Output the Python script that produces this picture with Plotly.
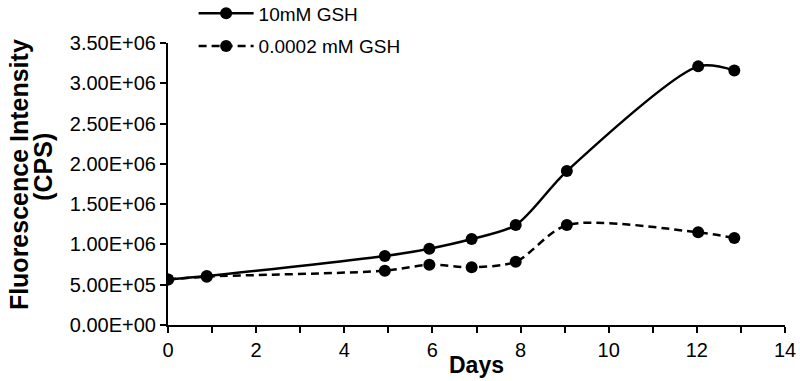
"""Fluorescence intensity over time for two GSH concentrations."""

import plotly.graph_objects as go

# ── Data ──────────────────────────────────────────────────────────────────────
days = [0, 0.88, 4.92, 5.93, 6.89, 7.89, 9.05, 12.03, 12.85]
gsh_10mm = [565000, 608000, 856000, 947000, 1067000, 1240000, 1910000, 3210000, 3160000]
gsh_00002mm = [565000, 600000, 674000, 748000, 716000, 785000, 1240000, 1150000, 1080000]

y_tick_vals = [0, 500000, 1000000, 1500000, 2000000, 2500000, 3000000, 3500000]
y_tick_text = ["0.00E+00", "5.00E+05", "1.00E+06", "1.50E+06",
               "2.00E+06", "2.50E+06", "3.00E+06", "3.50E+06"]

FONT = "Liberation Sans, Arial, sans-serif"
BLACK = "#000000"

fig = go.Figure()

fig.add_trace(go.Scatter(
    x=days, y=gsh_10mm,
    mode="lines+markers",
    name="10mM GSH",
    legendgroup="a",
    line={"color": BLACK, "width": 2.5, "shape": "spline", "smoothing": 0.8},
    marker={"color": BLACK, "size": 12},
))
fig.add_trace(go.Scatter(
    x=days, y=gsh_00002mm,
    mode="lines+markers",
    name="0.0002 mM GSH",
    legendgroup="b",
    line={"color": BLACK, "width": 2.5, "dash": "8px,5px",
          "shape": "spline", "smoothing": 0.8},
    marker={"color": BLACK, "size": 12},
))

# Axis titles as annotations so they sit exactly where the original has them
title_font = {"family": FONT, "size": 25, "color": BLACK}
for text, x, y in [("<b>Fluorescence Intensity</b>", -0.2415, 0.535),
                   ("<b>(CPS)</b>", -0.203, 0.56)]:
    fig.add_annotation(
        xref="paper", yref="paper", x=x, y=y, text=text,
        textangle=-90, showarrow=False,
        xanchor="center", yanchor="middle", font=title_font,
    )
fig.add_annotation(
    xref="paper", yref="paper", x=0.5, y=-0.142,
    text="<b>Days</b>", showarrow=False,
    xanchor="center", yanchor="middle",
    font={"family": FONT, "size": 23, "color": BLACK},
)

axis_common = dict(
    showline=True, linecolor=BLACK, linewidth=2,
    showgrid=False, zeroline=False,
    ticks="outside", tickcolor=BLACK, tickwidth=2, ticklen=6,
    tickfont={"family": FONT, "size": 20, "color": BLACK},
)

fig.update_layout(
    width=800, height=381,
    margin={"l": 168, "r": 15, "t": 43, "b": 56, "autoexpand": False},
    paper_bgcolor="white",
    plot_bgcolor="white",
    font={"family": FONT, "color": BLACK},
    xaxis={
        **axis_common,
        "range": [0, 14],
        "dtick": 2,
        "tick0": 0,
        "minor": {"dtick": 1, "ticks": "outside", "ticklen": 6,
                  "tickcolor": BLACK, "tickwidth": 2},
    },
    yaxis={
        **axis_common,
        "range": [0, 3500000],
        "tickvals": y_tick_vals,
        "ticktext": y_tick_text,
    },
    showlegend=True,
    legend={
        "x": 0.0415, "y": 1.172,
        "xanchor": "left", "yanchor": "top",
        "bgcolor": "rgba(0,0,0,0)",
        "font": {"family": FONT, "size": 19, "color": BLACK},
        "itemwidth": 55,
        "tracegroupgap": 5,
    },
)

# drop the browser's default 8px body margin so the 800x381 figure fills the page
fig.write_html(
    "out.html",
    config={"displayModeBar": False},
    default_width="800px", default_height="381px",
    post_script="document.body.style.margin='0';document.body.style.overflow='hidden';",
)
